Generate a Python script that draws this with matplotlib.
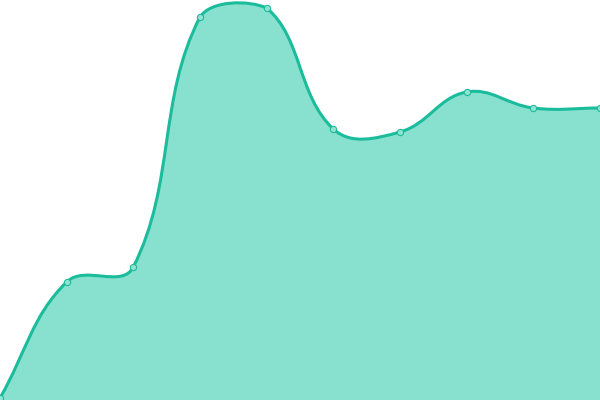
import numpy as np
import matplotlib
matplotlib.use("Agg")
import matplotlib.pyplot as plt
from matplotlib.path import Path
from matplotlib.patches import PathPatch

# data
labels = ["A", "B", "C", "D", "E", "F", "G", "H", "I", "J"]
values = [2, 118, 133, 383, 392, 271, 268, 308, 292, 292]

line_color = "#1bbc9b"
fill_color = "#88e0cf"
tension = 0.4


def spline_controls(pts, t, ymin, ymax):
    # cardinal spline control points (pixel space), capped to the plot area
    cps = []
    n = len(pts)
    for i in range(n):
        prev = pts[max(i - 1, 0)]
        cur = pts[i]
        nxt = pts[min(i + 1, n - 1)]
        d01 = np.hypot(*(cur - prev))
        d12 = np.hypot(*(nxt - cur))
        tot = d01 + d12
        s01 = d01 / tot if tot else 0
        s12 = d12 / tot if tot else 0
        fa = t * s01
        fb = t * s12
        cp_prev = cur - fa * (nxt - prev)
        cp_next = cur + fb * (nxt - prev)
        cp_prev[1] = np.clip(cp_prev[1], ymin, ymax)
        cp_next[1] = np.clip(cp_next[1], ymin, ymax)
        cps.append((cp_prev, cp_next))
    return cps


fig = plt.figure(figsize=(6, 4), dpi=100)
ax = fig.add_axes([0, 0, 1, 1])
x = np.arange(len(values))
ax.set_xlim(0, len(values) - 1)
ax.set_ylim(0, 400)
ax.axis("off")

pix = ax.transData.transform(np.column_stack([x, values]))
bb = ax.bbox
cps = spline_controls(pix, tension, bb.y0, bb.y1)

verts = [pix[0]]
codes = [Path.MOVETO]
for i in range(len(pix) - 1):
    verts += [cps[i][1], cps[i + 1][0], pix[i + 1]]
    codes += [Path.CURVE4] * 3

inv = ax.transData.inverted()
data_verts = inv.transform(np.array(verts))

line_path = Path(data_verts, codes)
fill_verts = np.vstack([data_verts, [[x[-1], 0], [x[0], 0], data_verts[0]]])
fill_codes = codes + [Path.LINETO, Path.LINETO, Path.CLOSEPOLY]
fill_path = Path(fill_verts, fill_codes)

ax.add_patch(PathPatch(fill_path, facecolor=fill_color, edgecolor="none", zorder=1))
ax.add_patch(PathPatch(line_path, facecolor="none", edgecolor=line_color, lw=2.2, zorder=2))
ax.plot(x, values, "o", ms=4.5, mfc="#8fe3d2", mec=line_color, mew=0.8,
        clip_on=False, zorder=3)

fig.savefig("out.png", dpi=100)
